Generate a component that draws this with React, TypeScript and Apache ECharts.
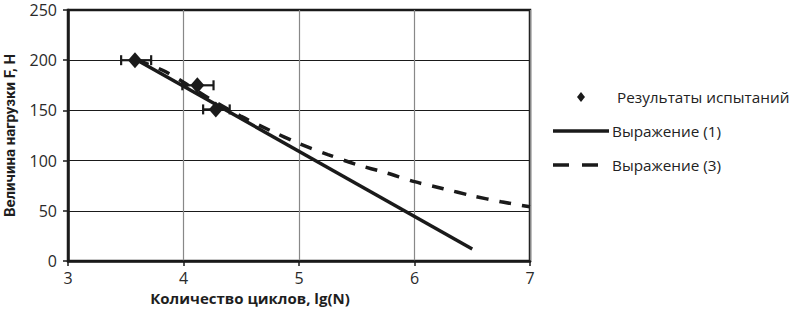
import React, { useEffect, useRef } from "react";
import * as echarts from "echarts";

// Experimental results: lg(N), load F, and horizontal error range
const testX = [3.58, 4.12, 4.28];
const testY = [200, 175, 151];
const errLow = [3.46, 3.99, 4.17];
const errHigh = [3.72, 4.26, 4.40];

// Expression (1): straight line
const expr1X = [3.6, 6.5];
const expr1Y = [200, 12];

// Expression (3): curve
const expr3X = [3.6, 3.82, 4.0, 4.25, 4.5, 4.75, 5.0, 5.25, 5.5, 5.75, 6.0, 6.25, 6.5, 6.75, 7.0];
const expr3Y = [200, 190, 178, 160, 144, 130, 117, 106, 96, 88, 79, 72, 65, 59, 54];

const xTicks = [3, 4, 5, 6, 7];
const yTicks = [0, 50, 100, 150, 200, 250];

const legendNames = ["Результаты испытаний", "Выражение (1)", "Выражение (3)"];
const xName = "Количество циклов, lg(N)";
const yName = "Величина нагрузки F, Н";

const FONT = "Open Sans";

export default function App() {
  const ref = useRef<HTMLDivElement>(null);
  useEffect(() => {
    if (!ref.current) return;
    const chart = echarts.init(ref.current, null, { renderer: "svg" });
    const pts = testX.map((x, i) => [x, testY[i]]);
    const errs = testX.map((_, i) => [errLow[i], errHigh[i], testY[i]]);
    const l1 = expr1X.map((x, i) => [x, expr1Y[i]]);
    const l3 = expr3X.map((x, i) => [x, expr3Y[i]]);
    chart.setOption({
      animation: false,
      textStyle: { fontFamily: FONT },
      grid: {
        left: 68,
        right: 265,
        top: 10,
        bottom: 51,
        containLabel: false,
        outerBoundsMode: "none",
        show: true,
        borderColor: "#1a1a1a",
        borderWidth: 2.5,
        backgroundColor: "transparent",
      },
      xAxis: {
        type: "value",
        min: xTicks[0],
        max: xTicks[xTicks.length - 1],
        interval: 1,
        axisLine: { show: true, lineStyle: { color: "#1a1a1a", width: 2.5 } },
        axisTick: { show: true, length: 5, lineStyle: { color: "#1a1a1a", width: 1.5 } },
        axisLabel: { color: "#2a2a2a", fontSize: 16, margin: 9, fontFamily: FONT },
        splitLine: { show: true, lineStyle: { color: "#888", width: 1.2 } },
      },
      yAxis: {
        type: "value",
        min: yTicks[0],
        max: yTicks[yTicks.length - 1],
        interval: 50,
        name: yName,
        nameLocation: "middle",
        nameGap: 51,
        nameRotate: 90,
        nameTextStyle: { fontFamily: "Roboto", fontWeight: "bold", fontSize: 15, color: "#1e1e1e" },
        axisLine: { show: true, lineStyle: { color: "#1a1a1a", width: 2.5 } },
        axisTick: { show: true, length: 5, lineStyle: { color: "#1a1a1a", width: 1.5 } },
        axisLabel: { color: "#2a2a2a", fontSize: 16, lineHeight: 17, margin: 11, fontFamily: FONT },
        splitLine: { show: true, lineStyle: { color: "#1a1a1a", width: 1.2 } },
      },
      series: [
        {
          name: legendNames[1],
          type: "line",
          data: l1,
          symbol: "none",
          lineStyle: { color: "#1a1a1a", width: 3.5 },
          z: 3,
        },
        {
          name: legendNames[2],
          type: "line",
          data: l3,
          symbol: "none",
          smooth: 0.3,
          lineStyle: { color: "#1a1a1a", width: 3.5, type: [12, 11] },
          z: 3,
        },
        {
          name: "err",
          type: "custom",
          data: errs,
          z: 4,
          renderItem: (params: any, api: any) => {
            const a = api.coord([api.value(0), api.value(2)]);
            const b = api.coord([api.value(1), api.value(2)]);
            const h = 5;
            const st = { stroke: "#1a1a1a", lineWidth: 2.2 };
            return {
              type: "group",
              children: [
                { type: "line", shape: { x1: a[0], y1: a[1], x2: b[0], y2: b[1] }, style: st },
                { type: "line", shape: { x1: a[0], y1: a[1] - h, x2: a[0], y2: a[1] + h }, style: st },
                { type: "line", shape: { x1: b[0], y1: b[1] - h, x2: b[0], y2: b[1] + h }, style: st },
              ],
            };
          },
        },
        {
          name: legendNames[0],
          type: "scatter",
          data: pts,
          symbol: "diamond",
          symbolSize: [14, 16],
          itemStyle: { color: "#1a1a1a", opacity: 1 },
          z: 5,
        },
      ],
      graphic: [
        { type: "text", x: 250, y: 298, style: { text: xName, fontFamily: FONT, fontWeight: "bold", fontSize: 15, fill: "#1e1e1e", align: "center", verticalAlign: "middle" } },
        { type: "polygon", shape: { points: [[581, 92], [585, 97], [581, 102], [577, 97]] }, style: { fill: "#1a1a1a" } },
        { type: "text", x: 617, y: 97, style: { text: legendNames[0], fontFamily: FONT, fontSize: 15.3, fill: "#222", verticalAlign: "middle" } },
        { type: "line", shape: { x1: 553, y1: 131, x2: 609, y2: 131 }, style: { stroke: "#1a1a1a", lineWidth: 3.5 } },
        { type: "text", x: 612, y: 131, style: { text: legendNames[1], fontFamily: FONT, fontSize: 15.3, fill: "#222", verticalAlign: "middle" } },
        { type: "line", shape: { x1: 553, y1: 165, x2: 609, y2: 165 }, style: { stroke: "#1a1a1a", lineWidth: 3.5, lineDash: [16, 13] } },
        { type: "text", x: 612, y: 165, style: { text: legendNames[2], fontFamily: FONT, fontSize: 15.3, fill: "#222", verticalAlign: "middle" } },
      ],
    });
    return () => chart.dispose();
  }, []);
  return <div ref={ref} style={{ width: 795, height: 312, position: "absolute", left: 0, top: 0 }} />;
}
